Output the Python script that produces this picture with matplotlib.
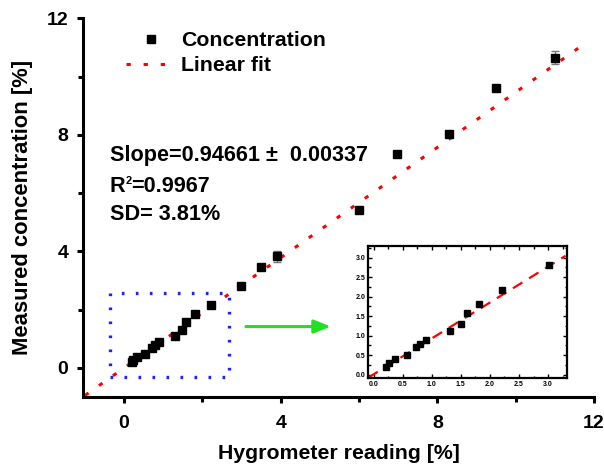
import matplotlib
matplotlib.use('Agg')
import matplotlib.pyplot as plt
from matplotlib.patches import Rectangle
import numpy as np

plt.rcParams['font.family'] = ['Liberation Sans', 'DejaVu Sans']
plt.rcParams['font.weight'] = 'bold'

# measured points (hygrometer reading vs measured concentration, %)
hygro = [0.21, 0.23, 0.34, 0.53, 0.70, 0.80, 0.89, 1.30, 1.49, 1.59, 1.80, 2.21,
         2.99, 3.49, 3.91, 5.99, 6.98, 8.29, 9.49, 11.0]
conc = [0.21, 0.28, 0.39, 0.49, 0.67, 0.80, 0.88, 1.11, 1.30, 1.58, 1.84, 2.15,
        2.82, 3.47, 3.83, 5.42, 7.33, 8.03, 9.60, 10.65]
conc_err = [0.03, 0.03, 0.03, 0.03, 0.03, 0.03, 0.03, 0.05, 0.05, 0.05, 0.05, 0.05,
            0.08, 0.08, 0.18, 0.08, 0.1, 0.1, 0.1, 0.22]

# zoomed-in region
inset_x = [0.21, 0.27, 0.37, 0.57, 0.73, 0.80, 0.91, 1.31, 1.51, 1.61, 1.81, 2.21, 3.01]
inset_y = [0.21, 0.30, 0.40, 0.50, 0.70, 0.80, 0.90, 1.12, 1.30, 1.58, 1.82, 2.16, 2.82]

slope = 0.94661
slope_err = 0.00337
r2 = 0.9967
sd = 3.81

fig = plt.figure(figsize=(6.04, 4.68), dpi=100)
ax = fig.add_axes([0.1374, 0.1517, 0.846, 0.8088])

fit_x = np.array([-1.0, 11.8])
ax.plot(fit_x, slope * fit_x, color='#ff0000', lw=2.2, dashes=(1.4, 4.2),
        label='Linear fit', zorder=2)
ax.errorbar(hygro, conc, yerr=conc_err, fmt='none', ecolor='#777777',
            elinewidth=1, capsize=3, capthick=1, zorder=3)
ax.plot(hygro, conc, 's', color='black', ms=5.4, label='Concentration', zorder=4)

ax.set_xlim(-1.05, 12)
ax.set_ylim(-1, 12)
ax.set_xticks([0, 4, 8, 12])
ax.set_yticks([0, 4, 8, 12])
ax.set_xticks([2, 6, 10], minor=True)
ax.set_yticks([2, 6, 10], minor=True)
ax.spines['top'].set_visible(False)
ax.spines['right'].set_visible(False)
ax.spines['left'].set_linewidth(2.2)
ax.spines['bottom'].set_linewidth(2.2)
ax.tick_params(which='major', direction='out', length=4.5, width=2.2,
               labelsize=14)
ax.tick_params(which='minor', direction='out', length=3.5, width=2.2)
ax.tick_params(axis='x', which='major', pad=8.5)
ax.tick_params(axis='y', which='major', pad=6)

ax.set_xlabel('Hygrometer reading [%]', fontsize=15.3, fontweight='bold')
ax.set_ylabel('Measured concentration [%]', fontsize=15.8, fontweight='bold')
ax.xaxis.set_label_coords(0.5, -0.125)
ax.yaxis.set_label_coords(-0.098, 0.5)

handles, labels = ax.get_legend_handles_labels()
leg = ax.legend(handles[::-1], labels[::-1], loc='upper left',
                bbox_to_anchor=(0.085, 0.967), frameon=False, fontsize=15.3,
                handlelength=2.35, handletextpad=0.23, borderpad=0,
                borderaxespad=0, labelspacing=0.3)

txt = dict(fontsize=15.6, fontweight='bold', va='center')
ax.text(-0.37, 7.3, 'Slope=%.5f \u00b1  %.5f' % (slope, slope_err), **txt)
# R^2 with a small superscript, as in the original
r_t = ax.text(-0.37, 6.24, 'R', **txt)
sup_t = ax.annotate('2', xy=(1.0, 0.98), xycoords=r_t, fontsize=8,
                    fontweight='bold', ha='left', va='top')
ax.annotate('=%.4f' % r2, xy=(1.0, 0.5), xycoords=(sup_t, r_t),
            fontsize=15.6, fontweight='bold', ha='left', va='center')
ax.text(-0.37, 5.28, 'SD= %.2f%%' % sd, **txt)

# dotted box round the low-concentration points
ax.add_patch(Rectangle((-0.37, -0.32), 3.06, 2.89, fill=False, edgecolor='#2020ff',
                       lw=2.4, linestyle=(0, (0.8, 3.4)), zorder=1))
ax.annotate('', xy=(5.35, 1.42), xytext=(3.04, 1.42),
            arrowprops=dict(arrowstyle='-|>,head_length=1.0,head_width=0.4',
                            color='#22e022', lw=2.2))

ins = fig.add_axes([0.6098, 0.1917, 0.3294, 0.2829])
xx = np.array([-0.09, 3.3])
ins.plot(xx, 0.92 * xx + 0.01, color='#ff0000', lw=1.6, dashes=(5, 3.5))
ins.plot(inset_x, inset_y, 's', color='black', ms=3.8)
ins.set_xlim(-0.09, 3.33)
ins.set_ylim(-0.09, 3.3)
ins.set_xticks(np.arange(0, 3.01, 0.5))
ins.set_yticks(np.arange(0, 3.01, 0.5))
ins.set_xticks(np.arange(0.25, 3.3, 0.5), minor=True)
ins.set_yticks(np.arange(0.25, 3.3, 0.5), minor=True)
for s in ins.spines.values():
    s.set_linewidth(1.6)
ins.tick_params(which='both', direction='in', top=True, right=True, width=1)
ins.tick_params(which='major', length=3, labelsize=5, pad=2)
ins.tick_params(which='minor', length=1.8)

fig.savefig('out.png', dpi=100)
